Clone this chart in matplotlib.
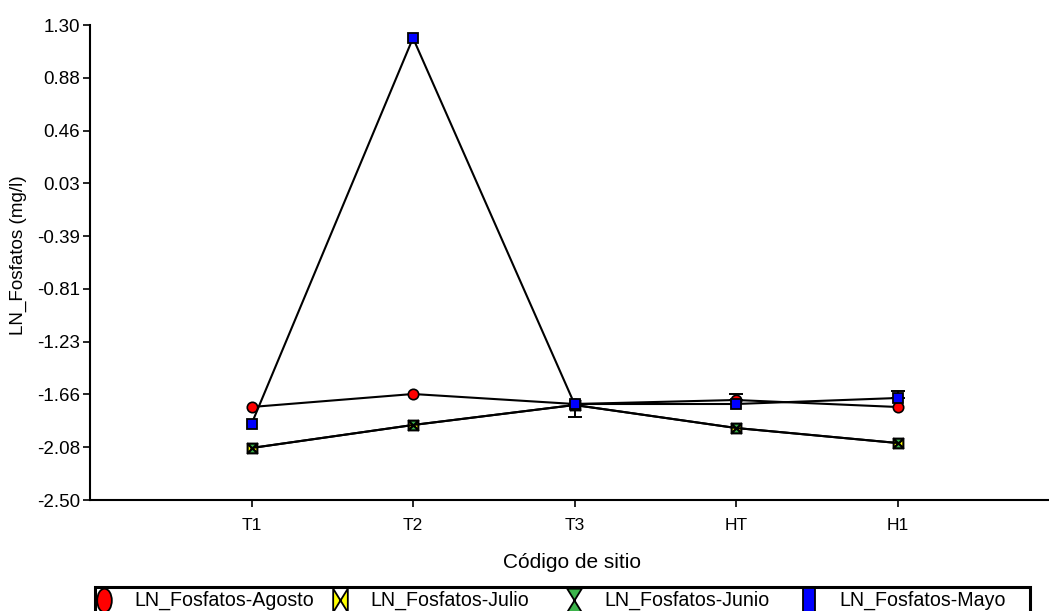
import numpy as np
import matplotlib
matplotlib.use('Agg')
import matplotlib.pyplot as plt
from matplotlib.path import Path
from matplotlib.transforms import Affine2D
from matplotlib.lines import Line2D
from matplotlib.patches import Rectangle

plt.rcParams['font.family'] = ['Liberation Sans', 'DejaVu Sans']

# ----------------------------
# DATA
# ----------------------------
sitios = ['T1', 'T2', 'T3', 'HT', 'H1']
agosto = [-1.756, -1.652, -1.732, -1.700, -1.756]
julio = [-2.084, -1.900, -1.740, -1.924, -2.044]
junio = [-2.084, -1.900, -1.740, -1.924, -2.044]
mayo = [-1.892, 1.196, -1.732, -1.732, -1.684]

# one-sided error bars (lower, upper)
agosto_err_lo = [0, 0, 0, 0, 0]
agosto_err_hi = [0, 0, 0, 0.05, 0]
mayo_err_lo = [0, 0, 0.10, 0, 0]
mayo_err_hi = [0, 0, 0, 0, 0.06]

yticks = np.linspace(-2.5, 1.3, 10)

# --- custom markers ---
bowtie = Path([(-1, -1), (-1, 1), (1, -1), (1, 1), (-1, -1)],
              [Path.MOVETO, Path.LINETO, Path.LINETO, Path.LINETO, Path.CLOSEPOLY])
hourglass = Path([(-1, 1), (1, 1), (-1, -1), (1, -1), (-1, 1)],
                 [Path.MOVETO, Path.LINETO, Path.LINETO, Path.LINETO, Path.CLOSEPOLY])
tall_ellipse = Path.unit_circle().transformed(Affine2D().scale(0.62, 1.0))
tall_bowtie = bowtie.transformed(Affine2D().scale(0.62, 1.0))
tall_hourglass = hourglass.transformed(Affine2D().scale(0.62, 1.0))
tall_rect = Path([(-0.55, -1), (0.55, -1), (0.55, 1), (-0.55, 1), (-0.55, -1)],
                 [Path.MOVETO, Path.LINETO, Path.LINETO, Path.LINETO, Path.CLOSEPOLY])

W, H = 1049, 611
fig = plt.figure(figsize=(W / 100, H / 100), dpi=100)
ax = fig.add_axes([90 / W, 1 - 500 / H, 1 - 90 / W, 475 / H])

x = np.arange(1, len(sitios) + 1)


def draw_err(vals, lo, hi):
    vals = np.array(vals)
    lo = np.array(lo)
    hi = np.array(hi)
    m = (lo > 0) | (hi > 0)
    if m.any():
        ax.errorbar(x[m], vals[m], yerr=[lo[m], hi[m]], fmt='none', ecolor='black',
                    elinewidth=1.4, capsize=5, capthick=1.4, zorder=2)


lw = 1.5
ax.plot(x, agosto, color='black', lw=lw, marker='o', ms=7.5, mfc='red', mec='black', mew=1.2, zorder=3)
ax.plot(x, julio, color='black', lw=lw, marker=bowtie, ms=7, mfc='yellow', mec='black', mew=1.5, zorder=3)
ax.plot(x, junio, color='black', lw=lw, marker=hourglass, ms=7, mfc='#3cb44b', mec='black', mew=1.5, zorder=3)
ax.plot(x, mayo, color='black', lw=lw, marker='s', ms=6.5, mfc='blue', mec='black', mew=1.3, zorder=4)
draw_err(agosto, agosto_err_lo, agosto_err_hi)
draw_err(mayo, mayo_err_lo, mayo_err_hi)

ax.set_xlim(0, (W - 90) / 161.5)
ax.set_ylim(-2.5, 1.3)
ax.set_yticks(yticks)
ax.set_yticklabels([f'{v:.2f}' for v in yticks])
ax.set_xticks(x)
ax.set_xticklabels(sitios)
ax.spines['top'].set_visible(False)
ax.spines['right'].set_visible(False)
for s in ('left', 'bottom'):
    ax.spines[s].set_linewidth(1.5)
ax.tick_params(axis='both', direction='out', length=5, width=1.2)
ax.tick_params(axis='y', labelsize=13.5, pad=2)
ax.tick_params(axis='x', labelsize=12.5, pad=8)
ax.set_ylabel('LN_Fosfatos (mg/l)', fontsize=13.6, va='center')
ax.yaxis.set_label_coords((18 - 90) / 959, (500 - 255) / 475)
ax.set_xlabel('Código de sitio', fontsize=15, va='center')
ax.xaxis.set_label_coords(0.503, -(562 - 500) / 475)

# --- legend box at bottom (cut by the figure edge like the reference) ---
fig.add_artist(Rectangle((95 / W, -0.05), (1030 - 95) / W, 0.05 + (H - 587) / H,
                         transform=fig.transFigure, fill=False, edgecolor='black', lw=2.2))
leg_y = 1 - 600 / H
entries = [
    (tall_ellipse, 'red', 'LN_Fosfatos-Agosto', 104),
    (tall_bowtie, 'yellow', 'LN_Fosfatos-Julio', 340),
    (tall_hourglass, '#3cb44b', 'LN_Fosfatos-Junio', 574),
    (tall_rect, 'blue', 'LN_Fosfatos-Mayo', 809),
]
for mk, col, lab, px in entries:
    fig.add_artist(Line2D([px / W], [leg_y], transform=fig.transFigure, marker=mk, ms=17,
                          mfc=col, mec='black', mew=1.3, ls='none'))
    fig.text((px + 30) / W, leg_y, lab, fontsize=14.1, va='center', ha='left')

fig.savefig('out.png', dpi=100)
